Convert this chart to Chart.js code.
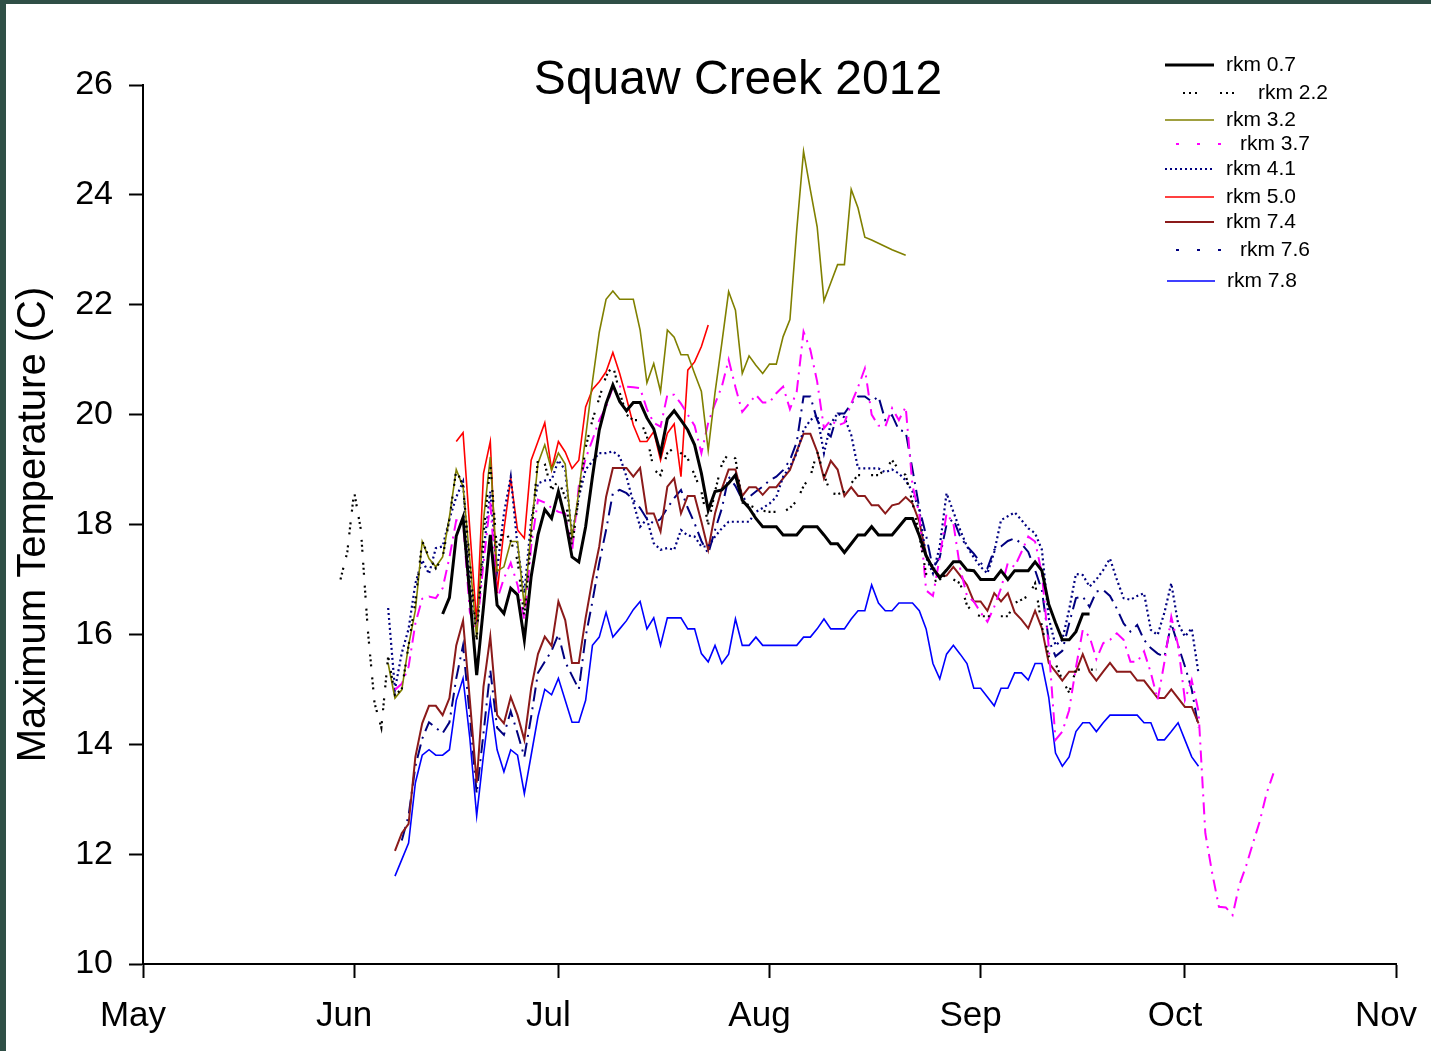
<!DOCTYPE html>
<html>
<head>
<meta charset="utf-8">
<title>Squaw Creek 2012</title>
<script src="https://cdn.jsdelivr.net/npm/chart.js@4.4.1/dist/chart.umd.min.js"></script>
<style>
  html, body { margin: 0; padding: 0; background: #fff; overflow: hidden; }
  #wrap { position: relative; width: 1431px; height: 1051px; }
</style>
</head>
<body>
<div id="wrap"><canvas id="grafico" width="1431" height="1051"></canvas></div>
<script>
// Eje x: dias desde el 1 de mayo
const monthDays = [0, 31, 61, 92, 123, 153, 184];
const monthLabels = ['May', 'Jun', 'Jul', 'Aug', 'Sep', 'Oct', 'Nov'];

// rkm 0.7 (desde dia 44)
const rkm07Start = 44;
const rkm07 = [16.37, 16.67, 17.79, 18.13, 16.7, 15.26, 16.5, 17.81, 16.53, 16.38,
  16.84, 16.72, 15.9, 17.05, 17.81, 18.27, 18.11, 18.6, 18.1, 17.41,
  17.32, 17.96, 18.87, 19.72, 20.2, 20.54, 20.24, 20.07, 20.22, 20.22,
  19.94, 19.74, 19.29, 19.92, 20.07, 19.9, 19.72, 19.45, 18.93, 18.26,
  18.6, 18.63, 18.75, 18.9, 18.44, 18.3, 18.11, 17.96, 17.96, 17.96,
  17.81, 17.81, 17.81, 17.96, 17.96, 17.96, 17.81, 17.65, 17.65, 17.49,
  17.65, 17.81, 17.81, 17.96, 17.81, 17.81, 17.81, 17.96, 18.11, 18.11,
  17.8, 17.43, 17.2, 17.03, 17.17, 17.32, 17.32, 17.17, 17.16, 17.0,
  17.0, 17.0, 17.16, 17.0, 17.16, 17.16, 17.16, 17.32, 17.16, 16.55,
  16.21, 15.9, 15.9, 16.05, 16.37, 16.37];

// rkm 2.2 (desde dia 29)
const rkm22Start = 29;
const rkm22 = [17.0, 17.5, 18.6, 17.9, 16.1, 14.75, 14.3, 15.6, 14.9, 15.0,
  15.8, 16.6, 17.7, 17.4, 17.2, 17.4, 18.1, 19.0, 18.7, 17.3,
  15.9, 17.8, 19.1, 17.5, 17.9, 17.7, 17.35, 16.3, 17.8, 19.2,
  19.1, 18.63, 18.8, 18.5, 17.6, 18.5, 19.4, 19.9, 20.3, 20.7,
  20.9, 20.4, 20.0, 19.9, 19.9, 19.6, 19.0, 18.9, 19.3, 19.4,
  19.3, 19.2, 18.9, 18.6, 18.0, 18.6, 19.1, 19.3, 19.2, 18.4,
  18.35, 18.3, 18.25, 18.23, 18.23, 18.23, 18.3, 18.43, 18.7, 18.87,
  19.33, 18.9, 18.57, 18.55, 18.6, 18.75, 18.9, 18.9, 18.9, 18.9,
  19.0, 19.17, 19.0, 18.9, 18.4, 17.8, 17.1, 16.96, 17.0, 17.1,
  17.0, 16.93, 16.53, 16.38, 16.33, 16.33, 16.33, 16.33, 16.33, 16.57,
  16.63, 16.7, 16.93, 16.14, 15.6, 15.47, 15.17, 14.94, 15.36, 15.36,
  15.36, 15.36];

// rkm 3.2 (desde dia 36)
const rkm32Start = 36;
const rkm32 = [15.47, 14.84, 14.99, 15.8, 16.44, 17.69, 17.38, 17.23, 17.41, 18.14,
  19.0, 18.69, 17.35, 15.93, 18.08, 19.23, 17.15, 17.23, 17.69, 17.69,
  16.5, 17.9, 19.11, 19.45, 18.99, 19.3, 19.1, 17.75, 18.6, 19.6,
  20.6, 21.5, 22.1, 22.25, 22.1, 22.1, 22.1, 21.54, 20.58, 20.93,
  20.42, 21.54, 21.41, 21.09, 21.09, 20.75, 20.42, 19.35, 20.4, 21.3,
  22.24, 21.9, 20.75, 21.07, 20.9, 20.75, 20.92, 20.92, 21.42, 21.73,
  23.36, 24.79, 24.09, 23.42, 22.07, 22.4, 22.73, 22.73, 24.1, 23.76,
  23.23, 23.18, 23.12, 23.06, 23.0, 22.95, 22.9];

// rkm 3.7 (desde dia 37)
const rkm37Start = 37;
const rkm37 = [14.99, 15.1, 15.41, 16.2, 16.65, 16.69, 16.66, 16.84, 17.4, 18.08,
  18.05, 16.4, 16.05, 17.3, 18.41, 16.63, 17.02, 17.3, 16.9, 16.26,
  17.6, 18.45, 18.4, 18.3, 18.23, 18.2, 17.5, 18.7, 19.2, 19.54,
  19.9, 20.14, 20.5, 20.51, 20.51, 20.5, 20.48, 20.1, 19.85, 19.78,
  20.36, 20.36, 20.2, 20.0, 19.8, 19.3, 19.85, 20.2, 20.51, 21.0,
  20.5, 20.05, 20.2, 20.36, 20.22, 20.22, 20.39, 20.51, 20.1, 20.42,
  21.51, 21.18, 20.6, 19.75, 19.9, 19.8, 19.85, 20.2, 20.5, 20.84,
  20.0, 19.8, 19.78, 20.12, 19.9, 20.14, 18.7, 18.2, 16.8, 16.7,
  17.4, 18.2, 18.02, 17.2, 16.7, 16.6, 16.4, 16.23, 16.5, 16.84,
  17.3, 17.23, 17.5, 17.78, 17.69, 17.11, 15.78, 14.08, 14.23, 14.62,
  15.4, 16.08, 15.96, 15.55, 15.84, 15.9, 16.02, 15.9, 15.5, 15.5,
  15.69, 15.3, 14.81, 15.5, 16.32, 15.8, 14.81, 15.17, 14.6, 12.38,
  11.66, 11.04, 11.03, 10.89, 11.44, 11.79, 12.2, 12.6, 13.11, 13.47];

// rkm 4.1 (desde dia 36)
const rkm41Start = 36;
const rkm41 = [16.48, 15.0, 15.66, 16.1, 16.93, 17.35, 17.1, 17.57, 17.6, 18.1,
  18.5, 18.78, 16.9, 16.1, 17.5, 18.6, 17.17, 18.2, 18.87, 17.6,
  16.75, 18.08, 18.75, 18.8, 18.81, 19.17, 18.99, 17.8, 18.5, 19.0,
  19.15, 19.3, 19.3, 19.33, 19.24, 18.87, 18.4, 17.96, 18.1, 17.66,
  17.54, 17.57, 17.54, 17.9, 17.8, 17.78, 17.6, 17.6, 17.78, 17.93,
  18.05, 18.05, 18.05, 18.05, 18.23, 18.3, 18.38, 18.5, 18.87, 19.05,
  19.3, 19.72, 19.9, 19.99, 19.3, 19.84, 20.02, 19.95, 19.63, 19.02,
  19.02, 19.02, 19.02, 18.95, 19.0, 18.93, 18.8, 18.6, 18.26, 17.4,
  17.11, 17.6, 18.57, 18.23, 17.9, 17.6, 17.4, 17.23, 17.11, 17.5,
  18.08, 18.15, 18.22, 18.08, 17.93, 17.84, 17.54, 16.3, 15.8, 15.9,
  16.45, 17.1, 17.08, 16.87, 17.0, 17.17, 17.38, 17.0, 16.66, 16.63,
  16.7, 16.75, 16.08, 15.99, 16.4, 16.93, 16.2, 15.96, 16.11, 15.29];

// rkm 5.0 (desde dia 46)
const rkm50Start = 46;
const rkm50 = [19.51, 19.67, 17.9, 16.2, 18.93, 19.51, 16.75, 17.9, 18.84, 17.9,
  17.75, 19.17, 19.51, 19.85, 19.0, 19.51, 19.32, 19.02, 19.17, 20.14,
  20.46, 20.6, 20.78, 21.13, 20.75, 20.3, 19.81, 19.51, 19.51, 19.69,
  19.17, 19.66, 19.83, 18.87, 20.81, 20.96, 21.24, 21.63];

// rkm 7.4 (desde dia 37)
const rkm74Start = 37;
const rkm74 = [12.06, 12.38, 12.55, 13.77, 14.38, 14.7, 14.7, 14.53, 14.84, 15.8,
  16.25, 14.8, 13.3, 15.05, 15.96, 14.53, 14.38, 14.86, 14.53, 14.08,
  15.02, 15.64, 15.96, 15.79, 16.6, 16.26, 15.48, 15.48, 16.3, 17.0,
  17.6, 18.5, 19.03, 19.03, 19.03, 18.87, 19.03, 18.2, 18.2, 17.87,
  18.69, 18.84, 18.2, 18.52, 18.52, 18.05, 17.54, 18.2, 18.65, 19.0,
  19.0, 18.52, 18.68, 18.68, 18.54, 18.68, 18.68, 18.84, 18.99, 19.33,
  19.65, 19.65, 19.33, 18.84, 19.16, 19.0, 18.52, 18.68, 18.52, 18.52,
  18.35, 18.35, 18.2, 18.35, 18.38, 18.5, 18.38, 18.05, 17.45, 17.2,
  17.06, 17.07, 17.23, 17.07, 16.9, 16.6, 16.6, 16.43, 16.75, 16.6,
  16.75, 16.4, 16.27, 16.11, 16.43, 16.11, 15.48, 15.32, 15.16, 15.32,
  15.32, 15.64, 15.32, 15.16, 15.32, 15.48, 15.32, 15.32, 15.32, 15.16,
  15.16, 15.0, 14.84, 14.84, 15.0, 14.84, 14.68, 14.68, 14.38];

// rkm 7.6 (desde dia 38)
const rkm76Start = 38;
const rkm76 = [12.25, 12.7, 13.6, 14.1, 14.4, 14.3, 14.2, 14.4, 15.2, 15.8,
  14.5, 13.1, 14.2, 15.35, 14.3, 14.17, 14.6, 14.2, 13.77, 14.5,
  15.3, 15.5, 15.7, 16.0, 15.5, 15.25, 15.0, 15.96, 16.6, 17.3,
  17.9, 18.57, 18.63, 18.57, 18.45, 18.3, 18.1, 18.02, 18.1, 18.3,
  18.48, 18.63, 18.3, 18.02, 17.7, 17.47, 17.9, 18.29, 18.87, 18.7,
  18.45, 18.5, 18.6, 18.69, 18.8, 18.87, 18.99, 19.17, 19.5, 20.33,
  20.33, 19.9, 19.7, 19.6, 20.02, 20.02, 20.2, 20.33, 20.33, 20.24,
  20.33, 19.9, 19.99, 19.72, 19.69, 19.0, 18.3, 17.8, 17.2, 17.4,
  18.0, 18.1, 17.78, 17.6, 17.47, 17.3, 17.2, 17.54, 17.6, 17.7,
  17.75, 17.65, 17.5, 17.17, 16.8, 15.9, 15.6, 15.7, 16.2, 16.66,
  16.69, 16.5, 16.78, 16.81, 16.7, 16.47, 16.2, 16.05, 16.17, 15.9,
  15.75, 15.65, 15.59, 16.2, 15.8, 15.42, 15.0, 14.3];

// rkm 7.8 (desde dia 37)
const rkm78Start = 37;
const rkm78 = [11.6, 11.9, 12.2, 13.3, 13.8, 13.9, 13.8, 13.8, 13.9, 14.8,
  15.2, 14.1, 12.7, 13.8, 14.8, 13.9, 13.5, 13.9, 13.8, 13.1,
  13.8, 14.5, 15.0, 14.9, 15.2, 14.8, 14.4, 14.4, 14.8, 15.8,
  15.95, 16.4, 15.95, 16.1, 16.25, 16.45, 16.6, 16.1, 16.3, 15.8,
  16.3, 16.3, 16.3, 16.1, 16.1, 15.65, 15.5, 15.8, 15.47, 15.64,
  16.28, 15.8, 15.8, 15.95, 15.8, 15.8, 15.8, 15.8, 15.8, 15.8,
  15.95, 15.95, 16.1, 16.28, 16.1, 16.1, 16.1, 16.28, 16.43, 16.43,
  16.9, 16.57, 16.43, 16.43, 16.57, 16.57, 16.57, 16.43, 16.1, 15.47,
  15.19, 15.64, 15.8, 15.64, 15.47, 15.02, 15.02, 14.86, 14.7, 15.02,
  15.02, 15.3, 15.3, 15.17, 15.47, 15.47, 14.86, 13.84, 13.6, 13.77,
  14.23, 14.39, 14.39, 14.23, 14.39, 14.53, 14.53, 14.53, 14.53, 14.53,
  14.39, 14.39, 14.08, 14.08, 14.23, 14.39, 14.08, 13.77, 13.6];

// Convertir arreglo de valores a puntos {x: dia, y: temperatura}
const toPoints = (start, values) => values.map((v, i) => ({ x: start + i, y: v }));

const series = [
  { label: 'rkm 0.7', start: rkm07Start, values: rkm07, color: '#000000', width: 3, dash: [], legendDash: [] },
  { label: 'rkm 2.2', start: rkm22Start, values: rkm22, color: '#000000', width: 2.2, dash: [2, 3, 2, 3, 2, 11], legendDash: [2, 4, 2, 4, 2, 23] },
  { label: 'rkm 3.2', start: rkm32Start, values: rkm32, color: '#808000', width: 1.6, dash: [], legendDash: [] },
  { label: 'rkm 3.7', start: rkm37Start, values: rkm37, color: '#FF00FF', width: 2, dash: [12, 6, 2, 6], legendDash: [3, 18] },
  { label: 'rkm 4.1', start: rkm41Start, values: rkm41, color: '#000080', width: 2.2, dash: [2, 3], legendDash: [2, 3] },
  { label: 'rkm 5.0', start: rkm50Start, values: rkm50, color: '#FF0000', width: 1.6, dash: [], legendDash: [] },
  { label: 'rkm 7.4', start: rkm74Start, values: rkm74, color: '#8B1A1A', width: 2, dash: [], legendDash: [] },
  { label: 'rkm 7.6', start: rkm76Start, values: rkm76, color: '#000080', width: 2, dash: [14, 6, 2, 6], legendDash: [3, 18] },
  { label: 'rkm 7.8', start: rkm78Start, values: rkm78, color: '#0000FF', width: 1.6, dash: [], legendDash: [] }
];

// Posiciones de la leyenda (muestra de linea y texto)
const legendLayout = [
  { y: 65, x0: 1165, x1: 1214, tx: 1226 },
  { y: 93, x0: 1183, x1: 1238, tx: 1258 },
  { y: 120, x0: 1165, x1: 1214, tx: 1226 },
  { y: 144, x0: 1176, x1: 1222, tx: 1240 },
  { y: 169, x0: 1165, x1: 1214, tx: 1226 },
  { y: 197, x0: 1165, x1: 1214, tx: 1226 },
  { y: 222, x0: 1165, x1: 1214, tx: 1226 },
  { y: 250, x0: 1176, x1: 1222, tx: 1240 },
  { y: 281, x0: 1167, x1: 1215, tx: 1227 }
];

const FONT = 'Arial, "Liberation Sans", Helvetica, sans-serif';

// Fondo blanco con borde oscuro arriba/izquierda
const fondoPlugin = {
  id: 'fondo',
  beforeDraw(chart) {
    const ctx = chart.ctx;
    ctx.save();
    ctx.fillStyle = '#ffffff';
    ctx.fillRect(0, 0, chart.width, chart.height);
    ctx.fillStyle = '#2F4F46';
    ctx.fillRect(0, 0, chart.width, 4);
    ctx.fillRect(0, 0, 6, chart.height);
    ctx.restore();
  }
};

// Titulo y leyenda dibujados a mano
const leyendaPlugin = {
  id: 'leyenda',
  afterDraw(chart) {
    const ctx = chart.ctx;
    ctx.save();
    ctx.fillStyle = '#000';
    ctx.font = '48px ' + FONT;
    ctx.textAlign = 'center';
    ctx.textBaseline = 'middle';
    ctx.fillText('Squaw Creek 2012', 738, 81);

    ctx.font = '21px ' + FONT;
    ctx.textAlign = 'left';
    series.forEach((s, i) => {
      const pos = legendLayout[i];
      ctx.strokeStyle = s.color;
      ctx.lineWidth = s.width;
      ctx.setLineDash(s.legendDash);
      ctx.beginPath();
      ctx.moveTo(pos.x0, pos.y);
      ctx.lineTo(pos.x1, pos.y);
      ctx.stroke();
      ctx.setLineDash([]);
      ctx.fillText(s.label, pos.tx, pos.y);
    });
    ctx.restore();
  }
};

const canvasGrafico = document.querySelector('#grafico');

new Chart(canvasGrafico, {
  type: 'line',
  data: {
    datasets: series.map(s => ({
      label: s.label,
      data: toPoints(s.start, s.values),
      borderColor: s.color,
      backgroundColor: s.color,
      borderWidth: s.width,
      borderDash: s.dash,
      pointRadius: 0,
      tension: 0,
      fill: false
    }))
  },
  options: {
    responsive: false,
    animation: false,
    devicePixelRatio: 1,
    layout: { padding: { top: 85, right: 35, left: 0, bottom: 0 } },
    plugins: {
      legend: { display: false },
      title: { display: false },
      tooltip: { enabled: false }
    },
    scales: {
      x: {
        type: 'linear',
        min: 0,
        max: 184,
        afterBuildTicks: (scale) => { scale.ticks = monthDays.map(v => ({ value: v })); },
        afterFit: (scale) => {
          scale.height = 87;
          scale.paddingLeft = 0;
          scale.paddingRight = 0;
        },
        ticks: {
          autoSkip: false,
          maxRotation: 0,
          padding: 17,
          labelOffset: -10,
          color: '#000',
          font: { family: FONT, size: 35 },
          callback: (value) => monthLabels[monthDays.indexOf(value)]
        },
        grid: { drawOnChartArea: false, drawTicks: true, tickLength: 14, tickColor: '#000', tickWidth: 2 },
        border: { display: true, color: '#000', width: 2 }
      },
      y: {
        min: 10,
        max: 26,
        afterFit: (scale) => {
          scale.width = 143;
          scale.paddingTop = 0;
          scale.paddingBottom = 0;
        },
        ticks: {
          stepSize: 2,
          padding: 16,
          color: '#000',
          font: { family: FONT, size: 34 }
        },
        grid: { drawOnChartArea: false, drawTicks: true, tickLength: 14, tickColor: '#000', tickWidth: 2 },
        border: { display: true, color: '#000', width: 2 },
        title: {
          display: true,
          text: 'Maximum Temperature (C)',
          color: '#000',
          font: { family: FONT, size: 40 },
          padding: { top: 10, bottom: 0 }
        }
      }
    }
  },
  plugins: [fondoPlugin, leyendaPlugin]
});
</script>
</body>
</html>
